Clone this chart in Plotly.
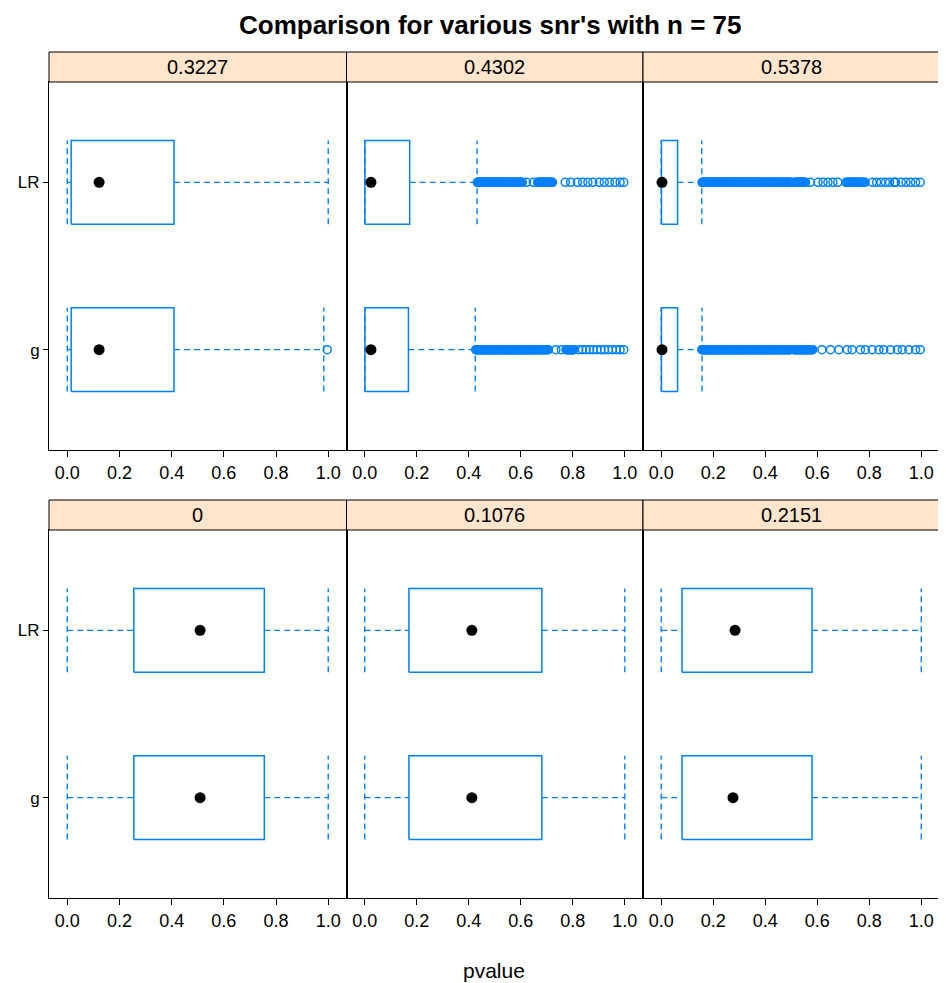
import plotly.graph_objects as go

# ---------------- data ----------------
snr_labels = ["0", "0.1076", "0.2151", "0.3227", "0.4302", "0.5378"]
methods = ["g", "LR"]
x_tick_vals = [0, 0.2, 0.4, 0.6, 0.8, 1.0]
x_tick_text = ["0.0", "0.2", "0.4", "0.6", "0.8", "1.0"]

# five-number summaries per snr panel
lr_lo = [0.0, 0.0, 0.0, 0.0, 0.0, 0.0]
lr_q1 = [0.255, 0.170, 0.080, 0.015, 0.001, 0.001]
lr_med = [0.509, 0.412, 0.284, 0.122, 0.024, 0.003]
lr_q3 = [0.755, 0.681, 0.580, 0.409, 0.173, 0.063]
lr_hi = [1.0, 1.0, 1.0, 1.0, 0.432, 0.156]

g_lo = [0.0, 0.0, 0.0, 0.0, 0.0, 0.0]
g_q1 = [0.255, 0.170, 0.080, 0.015, 0.001, 0.001]
g_med = [0.509, 0.412, 0.276, 0.122, 0.024, 0.003]
g_q3 = [0.755, 0.681, 0.580, 0.409, 0.168, 0.063]
g_hi = [1.0, 1.0, 1.0, 0.983, 0.425, 0.157]

# outliers
lr_out_0 = []
lr_out_1 = []
lr_out_2 = []
lr_out_3 = []
lr_out_4 = [0.433, 0.435, 0.437, 0.439, 0.441, 0.444, 0.446, 0.448, 0.450, 0.453,
            0.455, 0.457, 0.459, 0.462, 0.464, 0.467, 0.469, 0.471, 0.473, 0.476,
            0.478, 0.481, 0.483, 0.486, 0.488, 0.490, 0.492, 0.495, 0.497, 0.500,
            0.502, 0.505, 0.507, 0.510, 0.512, 0.515, 0.517, 0.520, 0.522, 0.525,
            0.527, 0.530, 0.532, 0.535, 0.537, 0.540, 0.542, 0.545, 0.548, 0.550,
            0.553, 0.556, 0.558, 0.561, 0.564, 0.567, 0.569, 0.572, 0.575, 0.578,
            0.581, 0.584, 0.587, 0.590, 0.593, 0.596, 0.599, 0.602, 0.606, 0.622, 0.648,
            0.665, 0.668, 0.670, 0.673, 0.675, 0.678, 0.681, 0.684, 0.686, 0.689,
            0.692, 0.695, 0.698, 0.701, 0.704, 0.707, 0.710, 0.713, 0.716, 0.719, 0.722,
            0.771, 0.792, 0.818, 0.838, 0.858, 0.877, 0.902, 0.921, 0.941, 0.962, 0.982, 0.996]
lr_out_5 = [0.157, 0.159, 0.162, 0.164, 0.167, 0.169, 0.172, 0.174, 0.177, 0.179,
            0.182, 0.184, 0.187, 0.189, 0.192, 0.194, 0.197, 0.199, 0.202, 0.204,
            0.207, 0.209, 0.212, 0.214, 0.217, 0.219, 0.222, 0.225, 0.228, 0.230,
            0.233, 0.235, 0.238, 0.240, 0.243, 0.246, 0.249, 0.251, 0.254, 0.256,
            0.259, 0.262, 0.265, 0.267, 0.270, 0.273, 0.276, 0.278, 0.281, 0.284,
            0.287, 0.289, 0.292, 0.295, 0.298, 0.300, 0.303, 0.306, 0.309, 0.312,
            0.315, 0.317, 0.320, 0.323, 0.326, 0.329, 0.332, 0.335, 0.338, 0.341,
            0.344, 0.347, 0.350, 0.353, 0.356, 0.359, 0.362, 0.365, 0.368, 0.371,
            0.374, 0.377, 0.380, 0.383, 0.386, 0.389, 0.392, 0.395, 0.398, 0.402,
            0.405, 0.408, 0.411, 0.414, 0.417, 0.421, 0.424, 0.427, 0.430, 0.434,
            0.437, 0.440, 0.443, 0.447, 0.450, 0.454, 0.457, 0.461, 0.464, 0.468,
            0.471, 0.475, 0.478, 0.482, 0.485, 0.489, 0.492, 0.496, 0.499,
            0.512, 0.515, 0.518, 0.521, 0.524, 0.527, 0.530, 0.533, 0.536, 0.539,
            0.542, 0.545, 0.548, 0.551, 0.555,
            0.574, 0.603, 0.622, 0.641, 0.660, 0.679,
            0.710, 0.714, 0.718, 0.722, 0.726, 0.730, 0.734, 0.738, 0.742, 0.746,
            0.750, 0.754, 0.758, 0.762, 0.766, 0.770, 0.775, 0.779, 0.784,
            0.812, 0.828, 0.845, 0.862, 0.878, 0.896, 0.899, 0.901, 0.923, 0.941, 0.959, 0.978, 0.996]

g_out_0 = []
g_out_1 = []
g_out_2 = []
g_out_3 = [0.996]
g_out_4 = [0.427, 0.429, 0.431, 0.433, 0.435, 0.438, 0.440, 0.442, 0.444, 0.447,
           0.449, 0.451, 0.453, 0.456, 0.458, 0.460, 0.462, 0.465, 0.467, 0.469,
           0.471, 0.474, 0.476, 0.479, 0.481, 0.483, 0.485, 0.488, 0.490, 0.493,
           0.495, 0.498, 0.500, 0.502, 0.504, 0.507, 0.509, 0.512, 0.514, 0.517,
           0.519, 0.522, 0.524, 0.527, 0.529, 0.532, 0.534, 0.537, 0.539, 0.542,
           0.544, 0.547, 0.549, 0.552, 0.554, 0.557, 0.559, 0.562, 0.564, 0.567,
           0.569, 0.572, 0.574, 0.577, 0.580, 0.583, 0.585, 0.588, 0.590, 0.593,
           0.596, 0.599, 0.601, 0.604, 0.607, 0.610, 0.612, 0.615, 0.618, 0.621,
           0.624, 0.627, 0.630, 0.633, 0.636, 0.639, 0.642, 0.645, 0.648, 0.651,
           0.654, 0.657, 0.660, 0.663, 0.666, 0.670, 0.673, 0.676, 0.679, 0.683,
           0.686, 0.689, 0.692, 0.696, 0.699, 0.703, 0.706, 0.735, 0.756,
           0.774, 0.777, 0.779, 0.782, 0.784, 0.787, 0.789, 0.792, 0.794, 0.797,
           0.799, 0.802, 0.804,
           0.823, 0.837, 0.851, 0.865, 0.879, 0.893, 0.908, 0.922, 0.937, 0.952,
           0.967, 0.982, 0.996]
g_out_5 = [0.156, 0.158, 0.161, 0.163, 0.166, 0.168, 0.171, 0.173, 0.176, 0.178,
           0.181, 0.183, 0.186, 0.188, 0.191, 0.193, 0.196, 0.198, 0.201, 0.203,
           0.206, 0.208, 0.211, 0.213, 0.216, 0.218, 0.221, 0.224, 0.227, 0.229,
           0.232, 0.234, 0.237, 0.239, 0.242, 0.245, 0.248, 0.250, 0.253, 0.255,
           0.258, 0.261, 0.264, 0.266, 0.269, 0.272, 0.275, 0.277, 0.280, 0.283,
           0.286, 0.288, 0.291, 0.294, 0.297, 0.299, 0.302, 0.305, 0.308, 0.311,
           0.314, 0.316, 0.319, 0.322, 0.325, 0.328, 0.331, 0.334, 0.337, 0.340,
           0.343, 0.346, 0.349, 0.352, 0.355, 0.358, 0.361, 0.364, 0.367, 0.370,
           0.373, 0.376, 0.379, 0.382, 0.385, 0.388, 0.391, 0.394, 0.397, 0.401,
           0.404, 0.407, 0.410, 0.413, 0.416, 0.420, 0.423, 0.426, 0.429, 0.433,
           0.436, 0.439, 0.442, 0.446, 0.449, 0.453, 0.456, 0.460, 0.463, 0.467,
           0.470, 0.474, 0.477, 0.481, 0.484, 0.488, 0.491, 0.494, 0.497,
           0.510, 0.513, 0.516, 0.519, 0.522, 0.525, 0.528, 0.531, 0.534, 0.537,
           0.540, 0.543, 0.546, 0.549, 0.552, 0.555, 0.558, 0.561, 0.564, 0.567,
           0.570, 0.573, 0.576, 0.580, 0.583,
           0.618, 0.651, 0.683, 0.715, 0.734, 0.766, 0.785, 0.811, 0.837, 0.856,
           0.882, 0.908, 0.927, 0.952, 0.978, 0.996]

lr_out = [lr_out_0, lr_out_1, lr_out_2, lr_out_3, lr_out_4, lr_out_5]
g_out = [g_out_0, g_out_1, g_out_2, g_out_3, g_out_4, g_out_5]

# ---------------- layout geometry (window pixels) ----------------
OFF = 8  # default page body margin
W, H = 946 - OFF, 983 - OFF
col_px = [(49, 346.5), (346.5, 643), (643, 939.5)]
row_panel_px = {"top": (82, 450), "bottom": (530, 898)}
row_strip_px = {"top": (52, 82), "bottom": (500, 530)}

BLUE = "#0080ff"
FONT = "Liberation Sans, Arial, sans-serif"
NARROW = "Liberation Sans Narrow, Arial Narrow, Liberation Sans, sans-serif"
HALF = 0.25  # half box height in category units

def fx(px):
    return (px - OFF) / W

def fy(py):
    return 1 - (py - OFF) / H

fig = go.Figure()
layout = dict(
    width=W, height=H, margin=dict(l=0, r=0, t=0, b=0),
    paper_bgcolor="white", plot_bgcolor="white", showlegend=False,
    font=dict(family=FONT, size=14, color="black"),
)
shapes = []
annotations = []

for i, lab in enumerate(snr_labels):
    k = i + 1
    row = "bottom" if i < 3 else "top"
    col = i % 3
    x0, x1 = col_px[col]
    y0, y1 = row_panel_px[row]
    s0, s1 = row_strip_px[row]
    xa = "x" if k == 1 else f"x{k}"
    ya = "y" if k == 1 else f"y{k}"
    layout[f"xaxis{'' if k == 1 else k}"] = dict(
        domain=[fx(x0), fx(x1)], anchor=ya, range=[-0.07, 1.07],
        tickvals=x_tick_vals, ticktext=x_tick_text, ticks="outside", ticklen=6,
        tickcolor="black", showline=True, linecolor="black", linewidth=1, mirror=True,
        showgrid=False, zeroline=False, tickfont=dict(size=18, family=NARROW),
    )
    layout[f"yaxis{'' if k == 1 else k}"] = dict(
        domain=[fy(y1), fy(y0)], anchor=xa, range=[0.4, 2.6],
        tickvals=[1, 2], ticktext=methods,
        ticks="outside" if col == 0 else "", ticklen=5, tickcolor="black",
        showticklabels=(col == 0),
        showline=True, linecolor="black", linewidth=1, mirror=True,
        showgrid=False, zeroline=False, tickfont=dict(size=17, family=NARROW),
    )
    # strip
    shapes.append(dict(type="rect", xref="paper", yref="paper",
                       x0=fx(x0), x1=fx(x1), y0=fy(s1), y1=fy(s0),
                       fillcolor="#ffe5cc", line=dict(color="black", width=1)))
    annotations.append(dict(text=lab, xref="paper", yref="paper",
                            x=fx((x0 + x1) / 2), y=fy((s0 + s1) / 2),
                            showarrow=False, xanchor="center", yanchor="middle",
                            font=dict(size=20, family=FONT, color="black")))

    stats = [
        (1, g_lo[i], g_q1[i], g_med[i], g_q3[i], g_hi[i], g_out[i]),
        (2, lr_lo[i], lr_q1[i], lr_med[i], lr_q3[i], lr_hi[i], lr_out[i]),
    ]
    for yc, lo, q1, med, q3, hi, outs in stats:
        # whisker lines (dashed)
        fig.add_trace(go.Scatter(
            x=[lo, q1, None, q3, hi], y=[yc, yc, None, yc, yc],
            xaxis=xa, yaxis=ya, mode="lines",
            line=dict(color=BLUE, width=1.4, dash="6px,4px"), hoverinfo="skip"))
        # whisker caps (dashed)
        fig.add_trace(go.Scatter(
            x=[lo, lo, None, hi, hi],
            y=[yc - HALF, yc + HALF, None, yc - HALF, yc + HALF],
            xaxis=xa, yaxis=ya, mode="lines",
            line=dict(color=BLUE, width=1.4, dash="6px,4px"), hoverinfo="skip"))
        # box
        fig.add_trace(go.Scatter(
            x=[q1, q3, q3, q1, q1],
            y=[yc - HALF, yc - HALF, yc + HALF, yc + HALF, yc - HALF],
            xaxis=xa, yaxis=ya, mode="lines",
            line=dict(color=BLUE, width=1.5), hoverinfo="skip"))
        # outliers
        if outs:
            fig.add_trace(go.Scatter(
                x=outs, y=[yc] * len(outs), xaxis=xa, yaxis=ya, mode="markers",
                marker=dict(symbol="circle-open", size=8, color=BLUE,
                            line=dict(width=1.5, color=BLUE))))
        # median dot
        fig.add_trace(go.Scatter(
            x=[med], y=[yc], xaxis=xa, yaxis=ya, mode="markers",
            marker=dict(symbol="circle", size=11, color="black")))

annotations.append(dict(text="<b>Comparison for various snr's with n = 75</b>",
                        xref="paper", yref="paper", x=fx(490), y=fy(25),
                        showarrow=False, xanchor="center", yanchor="middle",
                        font=dict(size=26, family=FONT, color="black")))
annotations.append(dict(text="pvalue", xref="paper", yref="paper",
                        x=fx(494), y=fy(970), showarrow=False,
                        xanchor="center", yanchor="middle",
                        font=dict(size=21, family=FONT, color="black")))

layout["shapes"] = shapes
layout["annotations"] = annotations
fig.update_layout(**layout)
fig.write_html("out.html")
